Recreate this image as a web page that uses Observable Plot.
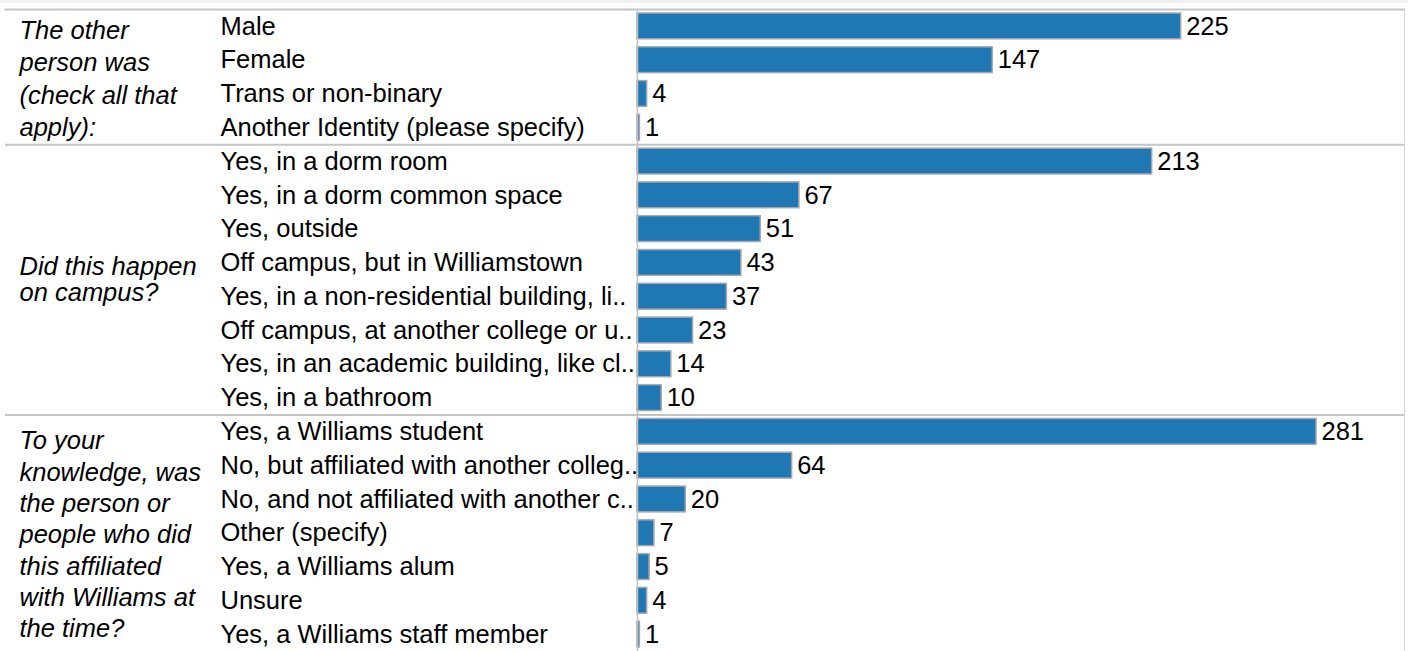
<!DOCTYPE html>
<html><head><meta charset="utf-8">
<script src="https://cdn.jsdelivr.net/npm/d3@7"></script>
<script src="https://cdn.jsdelivr.net/npm/@observablehq/plot@0.6"></script>
<style>
body{margin:0;background:#fff;font-family:"Liberation Sans",Arial,sans-serif}
#band{height:3px;background:#eef0f4}
</style></head><body><div id="band"></div><div id="chart"></div>
<script>
const groupLabels = [
  "The other\nperson was\n(check all that\napply):",
  "Did this happen\non campus?",
  "To your\nknowledge, was\nthe person or\npeople who did\nthis affiliated\nwith Williams at\nthe time?"
];
const categories = [
  "Male", "Female", "Trans or non-binary", "Another Identity (please specify)",
  "Yes, in a dorm room", "Yes, in a dorm common space", "Yes, outside", "Off campus, but in Williamstown",
  "Yes, in a non-residential building, li..", "Off campus, at another college or u..", "Yes, in an academic building, like cl..", "Yes, in a bathroom",
  "Yes, a Williams student", "No, but affiliated with another colleg..", "No, and not affiliated with another c..", "Other (specify)",
  "Yes, a Williams alum", "Unsure", "Yes, a Williams staff member"
];
const values = [225, 147, 4, 1, 213, 67, 51, 43, 37, 23, 14, 10, 281, 64, 20, 7, 5, 4, 1];
const groupOf = [0,0,0,0, 1,1,1,1,1,1,1,1, 2,2,2,2,2,2,2];

const data = categories.map((c, i) => ({category: c, value: values[i], group: groupOf[i]}));

const W = 1408, H = 648, MT = 6, MB = 0;
const step = (H - MT - MB) / categories.length;
const FONT = 25.5;
const lineHeights = [1.27, 1.0, 1.23];

const groupMarks = groupLabels.map((label, g) => {
  const rows = data.filter(d => d.group === g);
  return Plot.text([label], {
    y: () => rows[0].category,
    text: d => d,
    frameAnchor: "left", dx: 14,
    dy: (rows.length - 1) * step / 2,
    textAnchor: "start", lineAnchor: "middle",
    lineHeight: lineHeights[g],
    fontSize: FONT, fontStyle: "italic", fill: "#000"
  });
});
const firstOfGroup = groupLabels.slice(1).map((_, g) => data.find(d => d.group === g + 1).category);

const chart = Plot.plot({
  width: W, height: H,
  marginTop: MT, marginBottom: MB, marginLeft: 5, marginRight: 4,
  style: {fontFamily: "'Liberation Sans', Arial, sans-serif", background: "#fff"},
  x: {domain: [0, 317], range: [637, 1403], axis: null},
  y: {domain: categories, padding: 0, round: false, axis: null},
  marks: [
    Plot.barX(data, {x: "value", y: "category", fill: "#1f77b4", stroke: "#a3a8ad", strokeWidth: 1.5, insetTop: 4, insetBottom: 4}),
    Plot.text(data, {x: "value", y: "category", text: d => String(d.value), dx: 5, textAnchor: "start", fontSize: FONT, fill: "#000"}),
    Plot.text(data, {y: "category", text: "category", frameAnchor: "left", dx: 215, textAnchor: "start", fontSize: FONT, fill: "#000"}),
    ...groupMarks,
    Plot.ruleY(firstOfGroup, {y: d => d, dy: -step / 2, stroke: "#c4c4c4", strokeWidth: 2}),
    Plot.ruleX([0], {stroke: "#c0c0c0", strokeWidth: 1.5}),
    Plot.frame({anchor: "top", stroke: "#c4c4c4", strokeWidth: 2}),
    Plot.frame({anchor: "right", stroke: "#d8d8d8", strokeWidth: 1})
  ]
});
document.getElementById("chart").appendChild(chart);
</script></body></html>
